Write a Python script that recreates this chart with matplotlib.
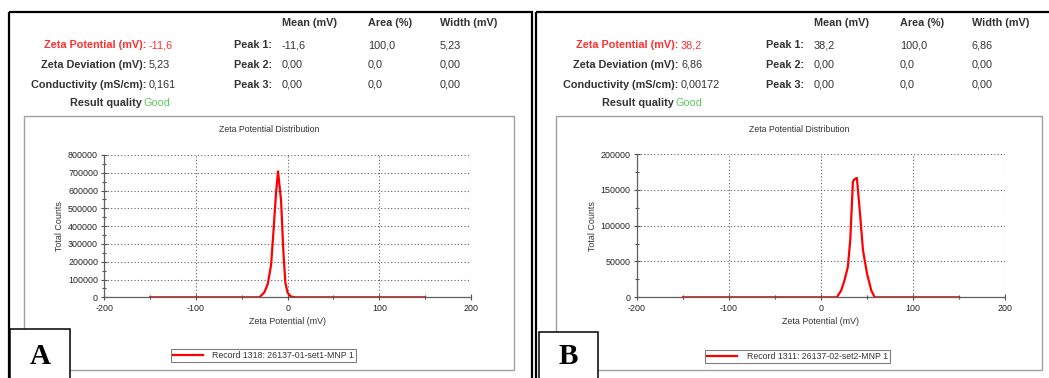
import matplotlib.pyplot as plt
from matplotlib.patches import Rectangle
from matplotlib.ticker import MultipleLocator

plt.rcParams['font.family'] = ['Liberation Sans', 'DejaVu Sans']
plt.rcParams['axes.unicode_minus'] = False

zeta_a_x = [-150, -30.8, -25.4, -21.7, -18.1, -15.6, -12.7, -10.5, -7.2, -4.7, -2.5, 0, 3.6, 9, 150]
zeta_a_y = [0, 0, 28000, 75000, 180000, 360000, 585000, 708000, 545000, 260000, 81000, 25000, 4000, 0, 0]
zeta_b_x = [-150, 17.2, 21.9, 25.5, 29.2, 31.8, 34.7, 36.5, 39, 42, 45.6, 50, 54.7, 58.4, 150]
zeta_b_y = [0, 0, 9400, 23600, 42500, 80000, 161700, 165000, 166500, 123000, 66000, 33000, 9400, 0, 0]

# Tabela de resultados
zeta_potential = ['-11,6', '38,2']
zeta_deviation = ['5,23', '6,86']
conductivity = ['0,161', '0,00172']
peak_mean = [['-11,6', '0,00', '0,00'], ['38,2', '0,00', '0,00']]
peak_area = [['100,0', '0,0', '0,0'], ['100,0', '0,0', '0,0']]
peak_width = [['5,23', '0,00', '0,00'], ['6,86', '0,00', '0,00']]
record_names = ['Record 1318: 26137-01-set1-MNP 1', 'Record 1311: 26137-02-set2-MNP 1']
panel_letters = ['A', 'B']
y_max = [800000, 200000]
y_step = [100000, 50000]
x_ticks = [-200, -100, 0, 100, 200]

W, H = 1049, 378
fig = plt.figure(figsize=(W / 100, H / 100), dpi=100)

# eixo de fundo em pixels (y para baixo)
bg = fig.add_axes([0, 0, 1, 1])
bg.set_xlim(0, W)
bg.set_ylim(H, 0)
bg.axis('off')

dark = '#333333'
red = '#ff3030'
green = '#5cc85c'
fs = 7.8

curves_x = [zeta_a_x, zeta_b_x]
curves_y = [zeta_a_y, zeta_b_y]

# posicoes de cada painel
outer_left = [8.5, 536]
outer_right = [532, 1060]
inner_left = [24, 556]
inner_right = [514, 1042]
plot_x = [(104.3, 471), (637, 1005)]
plot_y = [(155, 297.3), (154, 297.3)]
letter_box = [(9.5, 70, 329), (538.5, 598, 332)]
legend_center = [(263.5, 355.5), (797.5, 356.5)]

for i in range(2):
    dx = 0 if i == 0 else 532

    # moldura externa
    bg.add_patch(Rectangle((outer_left[i], 12), outer_right[i] - outer_left[i], 400,
                           fill=False, edgecolor='black', lw=1.6))
    # moldura do grafico
    bg.add_patch(Rectangle((inner_left[i], 116), inner_right[i] - inner_left[i], 254,
                           fill=False, edgecolor='#a0a0a0', lw=1))

    # cabecalho (alinhado pela linha de base)
    for lbl, x in zip(['Mean (mV)', 'Area (%)', 'Width (mV)'], [282, 368, 440]):
        bg.text(x + dx, 26.5, lbl, fontsize=fs, fontweight='bold', color=dark, va='baseline')

    rows_y = [48.5, 67.5, 87.5]
    bg.text(146 + dx, rows_y[0], 'Zeta Potential (mV):', fontsize=fs, fontweight='bold',
            color=red, ha='right', va='baseline')
    bg.text(149 + dx, rows_y[0], zeta_potential[i], fontsize=fs, color=red, va='baseline')
    bg.text(146 + dx, rows_y[1], 'Zeta Deviation (mV):', fontsize=fs, fontweight='bold',
            color=dark, ha='right', va='baseline')
    bg.text(149 + dx, rows_y[1], zeta_deviation[i], fontsize=fs, color=dark, va='baseline')
    bg.text(146 + dx, rows_y[2], 'Conductivity (mS/cm):', fontsize=fs, fontweight='bold',
            color=dark, ha='right', va='baseline')
    bg.text(149 + dx, rows_y[2], conductivity[i], fontsize=fs, color=dark, va='baseline')
    bg.text(142 + dx, 106.5, 'Result quality', fontsize=fs, fontweight='bold',
            color=dark, ha='right', va='baseline')
    bg.text(144 + dx, 106.5, 'Good', fontsize=fs, color=green, va='baseline')

    for k in range(3):
        bg.text(272 + dx, rows_y[k], 'Peak %d:' % (k + 1), fontsize=fs, fontweight='bold',
                color=dark, ha='right', va='baseline')
        bg.text(282 + dx, rows_y[k], peak_mean[i][k], fontsize=fs, color=dark, va='baseline')
        bg.text(368 + dx, rows_y[k], peak_area[i][k], fontsize=fs, color=dark, va='baseline')
        bg.text(440 + dx, rows_y[k], peak_width[i][k], fontsize=fs, color=dark, va='baseline')

    # titulo do grafico
    bg.text((inner_left[i] + inner_right[i]) / 2, 130, 'Zeta Potential Distribution',
            fontsize=6.3, color=dark, ha='center', va='center')

    # grafico
    x0, x1 = plot_x[i]
    y0, y1 = plot_y[i]
    ax = fig.add_axes([x0 / W, 1 - y1 / H, (x1 - x0) / W, (y1 - y0) / H])
    ax.plot(curves_x[i], curves_y[i], color='#ff0000', lw=1.6, label=record_names[i])
    ax.set_xlim(-200, 200)
    ax.set_ylim(0, y_max[i])
    ax.set_xticks(x_ticks)
    ax.xaxis.set_minor_locator(MultipleLocator(50))
    ax.yaxis.set_major_locator(MultipleLocator(y_step[i]))
    ax.yaxis.set_minor_locator(MultipleLocator(y_step[i] / 2))
    ax.grid(True, which='major', color='#606060', lw=0.8, linestyle=(0, (1, 2)))
    ax.set_axisbelow(True)
    for s in ['top', 'right']:
        ax.spines[s].set_visible(False)
    for s in ['left', 'bottom']:
        ax.spines[s].set_color('#606060')
        ax.spines[s].set_linewidth(0.9)
    ax.tick_params(which='major', direction='inout', length=5, width=0.8, color='#505050',
                   labelsize=6.4, labelcolor='#222222', pad=2)
    ax.tick_params(which='minor', direction='inout', length=3, width=0.8, color='#505050')
    ax.set_xlabel('Zeta Potential (mV)', fontsize=6.4, color=dark, labelpad=3)
    ax.set_ylabel('Total Counts', fontsize=6.4, color=dark, labelpad=3)
    ax.patch.set_alpha(0)

    cx, cy = legend_center[i]
    leg = ax.legend(loc='center', bbox_to_anchor=(cx / W, 1 - cy / H),
                    bbox_transform=fig.transFigure, fontsize=6.3, fancybox=False,
                    framealpha=1, edgecolor='#808080', borderpad=0.25,
                    handlelength=3.4, handletextpad=1.1, borderaxespad=0)
    leg.get_frame().set_linewidth(0.8)
    for t in leg.get_texts():
        t.set_color(dark)

    # caixa com a letra
    lx0, lx1, ly = letter_box[i]
    bg.add_patch(Rectangle((lx0, ly), lx1 - lx0, 60, facecolor='white',
                           edgecolor='black', lw=1.1, zorder=5))
    bg.text((lx0 + lx1) / 2, 357, panel_letters[i], fontsize=21, fontweight='bold',
            family='Liberation Serif', ha='center', va='center', zorder=6)

plt.savefig('out.png', dpi=100)
